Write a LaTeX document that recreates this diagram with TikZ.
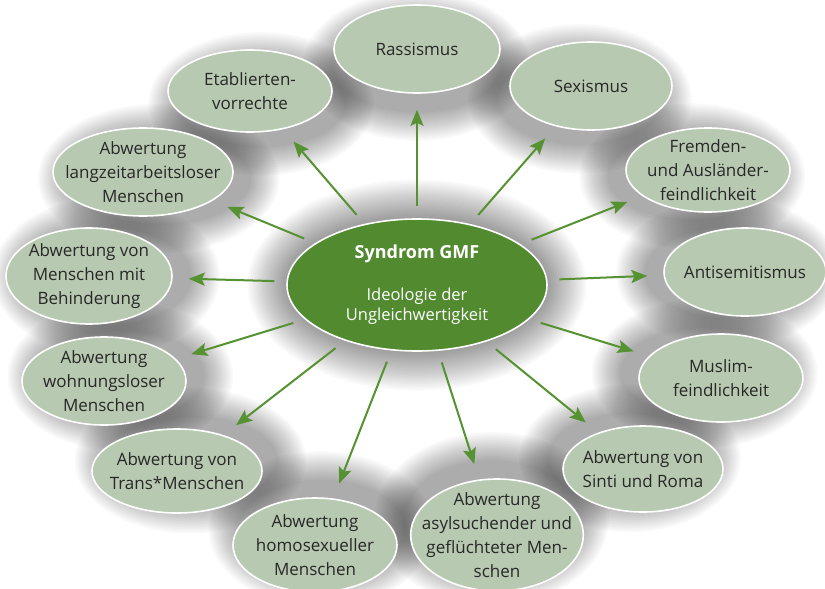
\documentclass[tikz,border=0pt]{standalone}
\usepackage{fontspec}
\setmainfont{Open Sans}
\usetikzlibrary{shapes.geometric,arrows.meta,backgrounds,calc}
\definecolor{leafc}{RGB}{183,201,176}
\definecolor{corec}{RGB}{82,138,48}
\definecolor{arrc}{RGB}{86,145,50}
\definecolor{txtc}{RGB}{40,40,40}
% soft shadow: stacked translucent ellipses, moved towards the centre node
\newcommand\nodeglow[5]{% name, steps, step size, opacity, shift towards c
  \foreach \kk in {1,...,#2}{%
  \fill[black, fill opacity=#4]
    let \p0=($(#1.center)!#5!(c.center)$), \p3=(#1.center), \p1=(#1.east), \p2=(#1.north) in
    (\p0) ellipse [x radius={\x1-\x3+\kk*#3}, y radius={\y2-\y3+\kk*#3}];}}
\tikzset{
  leaf/.style={ellipse, draw=white, line width=1.6pt, fill=leafc, text=txtc,
    align=center, inner sep=-14pt, font=\fontsize{17}{24}\selectfont},
  core/.style={ellipse, draw=white, line width=1.6pt, fill=corec, text=white,
    align=center, inner sep=-14pt, font=\fontsize{16.5}{20.5}\selectfont},
  sz/.style 2 args={minimum width=#1, minimum height=#2},
  arr/.style={draw=arrc, line width=2pt, -{Stealth[length=16pt,width=13pt,inset=3pt]},
    shorten <=12pt, shorten >=16pt}
}
\begin{document}
\begin{tikzpicture}[x=1pt,y=-1pt]
\useasboundingbox (0,0) rectangle (825,589);
\node[core, sz={260pt}{132pt}] (c) at (417,285)
  {{\fontsize{18}{20.5}\selectfont\bfseries Syndrom GMF}\\[21pt]Ideologie der\\Ungleichwertigkeit};
\node[leaf, sz={166pt}{88pt}] (r) at (417,49) {Rassismus};
\node[leaf, sz={162pt}{88pt}] (s) at (591,86) {Sexismus};
\node[leaf, sz={164pt}{82pt}] (e) at (250,91) {Etablierten-\\vorrechte};
\node[leaf, sz={180pt}{88pt}] (l) at (143,172) {Abwertung\\langzeitarbeitsloser\\Menschen};
\node[leaf, sz={164pt}{84pt}] (f) at (708,170) {Fremden-\\und Ausländer-\\feindlichkeit};
\node[leaf, sz={166pt}{96pt}] (b) at (89,276) {Abwertung von\\Menschen mit\\Behinderung};
\node[leaf, sz={162pt}{88pt}] (a) at (745,272) {Antisemitismus};
\node[leaf, sz={164pt}{88pt}] (w) at (104,381) {Abwertung\\wohnungsloser\\Menschen};
\node[leaf, sz={164pt}{88pt}] (m) at (721,378) {Muslim-\\feindlichkeit};
\node[leaf, sz={170pt}{84pt}] (t) at (177,471) {Abwertung von\\Trans*Menschen};
\node[leaf, sz={160pt}{86pt}] (si) at (643,469) {Abwertung von\\Sinti und Roma};
\node[leaf, sz={164pt}{94pt}] (h) at (315,545) {Abwertung\\homosexueller\\Menschen};
\node[leaf, sz={170pt}{112pt}] (y) at (497,535) {Abwertung\\asylsuchender und\\geflüchteter Men-\\schen};
\begin{scope}[on background layer]
  \fill[white] (0,0) rectangle (825,589);
  \foreach \kk in {1,...,18}{%
    \fill[black, fill opacity=0.024] (c.center) ellipse [x radius={130pt+\kk*2.2pt}, y radius={66pt+\kk*2.2pt}];}
  \foreach \nm in {r,s,e,l,f,b,a,w,m,t,si,h,y}{\nodeglow{\nm}{15}{2pt}{0.022}{17pt}}
\end{scope}
\foreach \nm in {r,s,e,l,f,b,a,w,m,t,si,h,y}{\draw[arr] (c) -- (\nm);}
\end{tikzpicture}
\end{document}
